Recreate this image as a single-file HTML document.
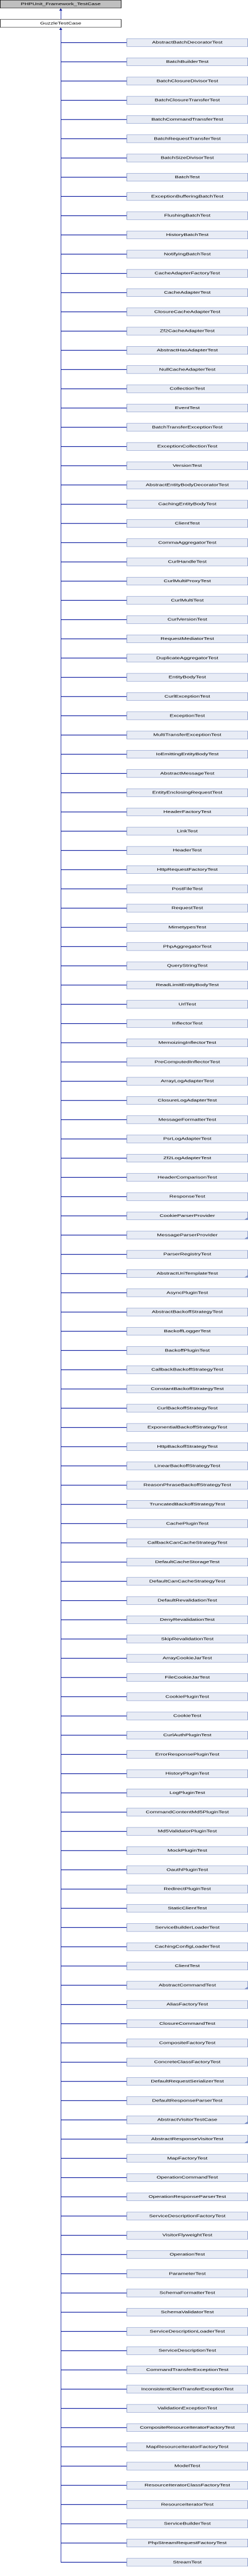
<!DOCTYPE html>
<html><head><meta charset="utf-8">
<style>
html,body{margin:0;padding:0;background:#fff;width:482px;height:4981px;overflow:hidden;}
#w{position:relative;width:482px;height:7472px;overflow:hidden;font-family:"Liberation Sans",Arial,sans-serif;font-size:11px;color:#000;transform:scale(1,0.66667);transform-origin:0 0;}
.bx{position:absolute;box-sizing:border-box;height:24px;line-height:22px;text-align:center;white-space:nowrap;}
.tr{position:absolute;left:118px;width:1px;background:#0b1aa0;}
.ar{position:absolute;left:115px;width:0;height:0;border-left:3.5px solid transparent;border-right:3.5px solid transparent;border-bottom:7px solid #0b1aa0;}
#list{position:absolute;left:0;top:112px;width:482px;}
.r{position:relative;height:56px;}
.r::before{content:"";position:absolute;left:118px;top:11px;width:128px;height:1.5px;background:#0b1aa0;}
.r b{font-weight:normal;position:absolute;left:246px;top:0;width:236px;height:24px;box-sizing:border-box;border:1px solid #7b8fc6;background:#e8ecf5;line-height:22px;text-align:center;white-space:nowrap;overflow:hidden;}
.r.m b::after{content:"";position:absolute;right:0;bottom:0;width:0;height:0;border-left:6px solid transparent;border-bottom:6px solid #7b8fc6;}
</style></head><body>
<div id="w">
<div class="bx" style="left:0;top:0;width:236px;background:#bfbfbf;border:1px solid #000;">PHPUnit_Framework_TestCase</div>
<div class="tr" style="top:28px;height:28px;"></div>
<div class="ar" style="top:24px;"></div>
<div class="bx" style="left:0;top:56px;width:236px;background:#fff;border:1px solid #000;">GuzzleTestCase</div>
<div class="tr" style="top:84px;height:7376px;"></div>
<div class="ar" style="top:80px;"></div>
<div id="list">
<div class="r"><b>AbstractBatchDecoratorTest</b></div>
<div class="r"><b>BatchBuilderTest</b></div>
<div class="r"><b>BatchClosureDivisorTest</b></div>
<div class="r"><b>BatchClosureTransferTest</b></div>
<div class="r"><b>BatchCommandTransferTest</b></div>
<div class="r"><b>BatchRequestTransferTest</b></div>
<div class="r"><b>BatchSizeDivisorTest</b></div>
<div class="r"><b>BatchTest</b></div>
<div class="r"><b>ExceptionBufferingBatchTest</b></div>
<div class="r"><b>FlushingBatchTest</b></div>
<div class="r"><b>HistoryBatchTest</b></div>
<div class="r"><b>NotifyingBatchTest</b></div>
<div class="r"><b>CacheAdapterFactoryTest</b></div>
<div class="r"><b>CacheAdapterTest</b></div>
<div class="r"><b>ClosureCacheAdapterTest</b></div>
<div class="r"><b>Zf2CacheAdapterTest</b></div>
<div class="r"><b>AbstractHasAdapterTest</b></div>
<div class="r"><b>NullCacheAdapterTest</b></div>
<div class="r"><b>CollectionTest</b></div>
<div class="r"><b>EventTest</b></div>
<div class="r"><b>BatchTransferExceptionTest</b></div>
<div class="r"><b>ExceptionCollectionTest</b></div>
<div class="r"><b>VersionTest</b></div>
<div class="r"><b>AbstractEntityBodyDecoratorTest</b></div>
<div class="r"><b>CachingEntityBodyTest</b></div>
<div class="r"><b>ClientTest</b></div>
<div class="r"><b>CommaAggregatorTest</b></div>
<div class="r"><b>CurlHandleTest</b></div>
<div class="r"><b>CurlMultiProxyTest</b></div>
<div class="r"><b>CurlMultiTest</b></div>
<div class="r"><b>CurlVersionTest</b></div>
<div class="r"><b>RequestMediatorTest</b></div>
<div class="r"><b>DuplicateAggregatorTest</b></div>
<div class="r"><b>EntityBodyTest</b></div>
<div class="r"><b>CurlExceptionTest</b></div>
<div class="r"><b>ExceptionTest</b></div>
<div class="r"><b>MultiTransferExceptionTest</b></div>
<div class="r"><b>IoEmittingEntityBodyTest</b></div>
<div class="r"><b>AbstractMessageTest</b></div>
<div class="r"><b>EntityEnclosingRequestTest</b></div>
<div class="r"><b>HeaderFactoryTest</b></div>
<div class="r"><b>LinkTest</b></div>
<div class="r"><b>HeaderTest</b></div>
<div class="r"><b>HttpRequestFactoryTest</b></div>
<div class="r"><b>PostFileTest</b></div>
<div class="r"><b>RequestTest</b></div>
<div class="r"><b>MimetypesTest</b></div>
<div class="r"><b>PhpAggregatorTest</b></div>
<div class="r"><b>QueryStringTest</b></div>
<div class="r"><b>ReadLimitEntityBodyTest</b></div>
<div class="r"><b>UrlTest</b></div>
<div class="r"><b>InflectorTest</b></div>
<div class="r"><b>MemoizingInflectorTest</b></div>
<div class="r"><b>PreComputedInflectorTest</b></div>
<div class="r"><b>ArrayLogAdapterTest</b></div>
<div class="r"><b>ClosureLogAdapterTest</b></div>
<div class="r"><b>MessageFormatterTest</b></div>
<div class="r"><b>PsrLogAdapterTest</b></div>
<div class="r"><b>Zf2LogAdapterTest</b></div>
<div class="r"><b>HeaderComparisonTest</b></div>
<div class="r"><b>ResponseTest</b></div>
<div class="r m"><b>CookieParserProvider</b></div>
<div class="r m"><b>MessageParserProvider</b></div>
<div class="r"><b>ParserRegistryTest</b></div>
<div class="r m"><b>AbstractUriTemplateTest</b></div>
<div class="r"><b>AsyncPluginTest</b></div>
<div class="r"><b>AbstractBackoffStrategyTest</b></div>
<div class="r"><b>BackoffLoggerTest</b></div>
<div class="r"><b>BackoffPluginTest</b></div>
<div class="r"><b>CallbackBackoffStrategyTest</b></div>
<div class="r"><b>ConstantBackoffStrategyTest</b></div>
<div class="r"><b>CurlBackoffStrategyTest</b></div>
<div class="r"><b>ExponentialBackoffStrategyTest</b></div>
<div class="r"><b>HttpBackoffStrategyTest</b></div>
<div class="r"><b>LinearBackoffStrategyTest</b></div>
<div class="r"><b>ReasonPhraseBackoffStrategyTest</b></div>
<div class="r"><b>TruncatedBackoffStrategyTest</b></div>
<div class="r"><b>CachePluginTest</b></div>
<div class="r"><b>CallbackCanCacheStrategyTest</b></div>
<div class="r"><b>DefaultCacheStorageTest</b></div>
<div class="r"><b>DefaultCanCacheStrategyTest</b></div>
<div class="r"><b>DefaultRevalidationTest</b></div>
<div class="r"><b>DenyRevalidationTest</b></div>
<div class="r"><b>SkipRevalidationTest</b></div>
<div class="r"><b>ArrayCookieJarTest</b></div>
<div class="r"><b>FileCookieJarTest</b></div>
<div class="r"><b>CookiePluginTest</b></div>
<div class="r"><b>CookieTest</b></div>
<div class="r"><b>CurlAuthPluginTest</b></div>
<div class="r"><b>ErrorResponsePluginTest</b></div>
<div class="r"><b>HistoryPluginTest</b></div>
<div class="r"><b>LogPluginTest</b></div>
<div class="r"><b>CommandContentMd5PluginTest</b></div>
<div class="r"><b>Md5ValidatorPluginTest</b></div>
<div class="r"><b>MockPluginTest</b></div>
<div class="r"><b>OauthPluginTest</b></div>
<div class="r"><b>RedirectPluginTest</b></div>
<div class="r"><b>StaticClientTest</b></div>
<div class="r"><b>ServiceBuilderLoaderTest</b></div>
<div class="r"><b>CachingConfigLoaderTest</b></div>
<div class="r"><b>ClientTest</b></div>
<div class="r m"><b>AbstractCommandTest</b></div>
<div class="r"><b>AliasFactoryTest</b></div>
<div class="r"><b>ClosureCommandTest</b></div>
<div class="r"><b>CompositeFactoryTest</b></div>
<div class="r"><b>ConcreteClassFactoryTest</b></div>
<div class="r"><b>DefaultRequestSerializerTest</b></div>
<div class="r"><b>DefaultResponseParserTest</b></div>
<div class="r m"><b>AbstractVisitorTestCase</b></div>
<div class="r m"><b>AbstractResponseVisitorTest</b></div>
<div class="r"><b>MapFactoryTest</b></div>
<div class="r"><b>OperationCommandTest</b></div>
<div class="r"><b>OperationResponseParserTest</b></div>
<div class="r"><b>ServiceDescriptionFactoryTest</b></div>
<div class="r"><b>VisitorFlyweightTest</b></div>
<div class="r"><b>OperationTest</b></div>
<div class="r"><b>ParameterTest</b></div>
<div class="r"><b>SchemaFormatterTest</b></div>
<div class="r"><b>SchemaValidatorTest</b></div>
<div class="r"><b>ServiceDescriptionLoaderTest</b></div>
<div class="r"><b>ServiceDescriptionTest</b></div>
<div class="r"><b>CommandTransferExceptionTest</b></div>
<div class="r"><b style="font-size:10.5px;letter-spacing:-0.2px;">InconsistentClientTransferExceptionTest</b></div>
<div class="r"><b>ValidationExceptionTest</b></div>
<div class="r"><b style="letter-spacing:-0.2px;">CompositeResourceIteratorFactoryTest</b></div>
<div class="r"><b>MapResourceIteratorFactoryTest</b></div>
<div class="r"><b>ModelTest</b></div>
<div class="r"><b>ResourceIteratorClassFactoryTest</b></div>
<div class="r"><b>ResourceIteratorTest</b></div>
<div class="r"><b>ServiceBuilderTest</b></div>
<div class="r"><b>PhpStreamRequestFactoryTest</b></div>
<div class="r"><b>StreamTest</b></div>
</div>
</div>
</body></html>
